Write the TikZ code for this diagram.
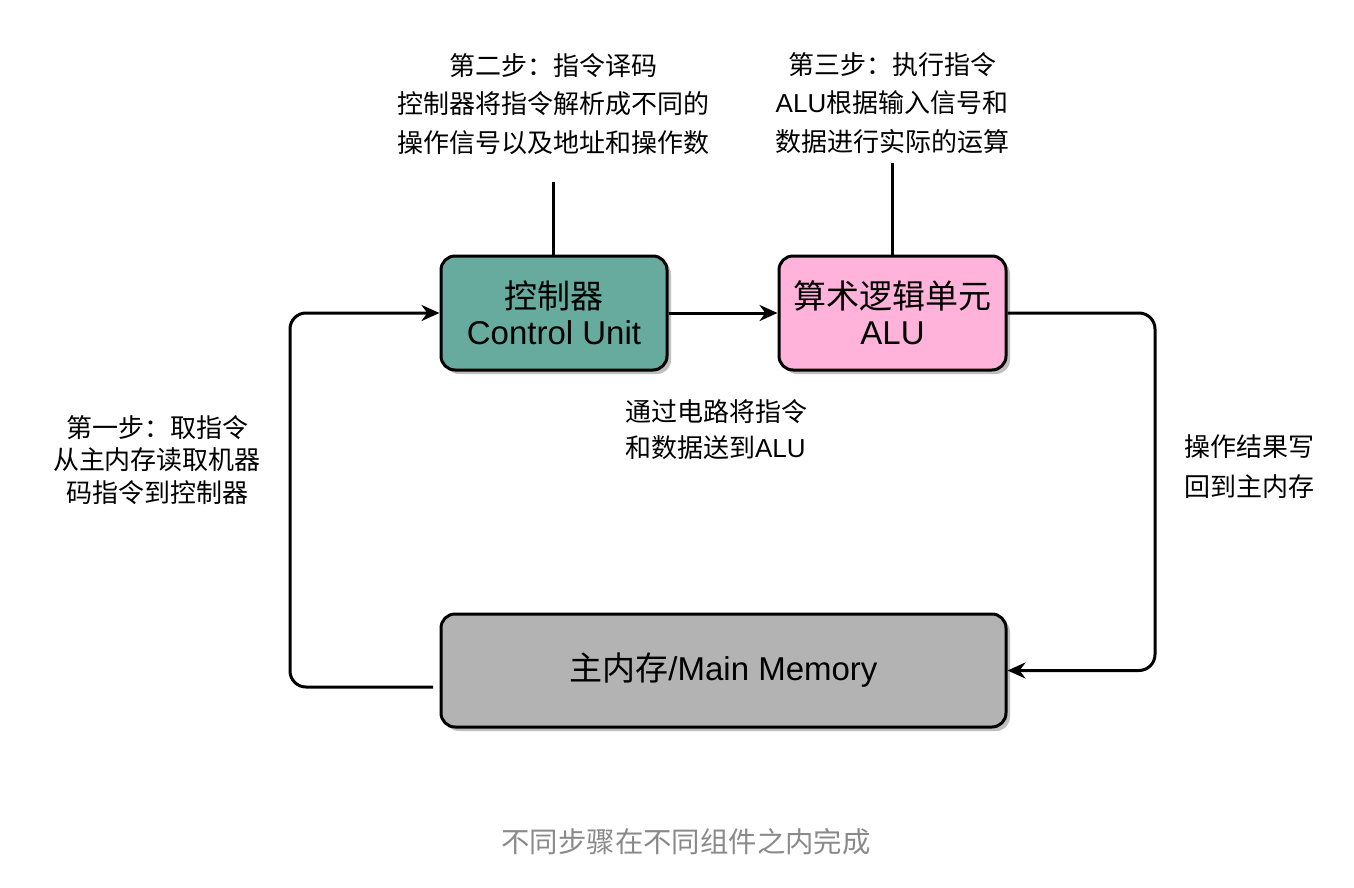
\documentclass[tikz,border=0pt]{standalone}
\usepackage{fontspec}
\setmainfont{Liberation Sans}
\newfontfamily\cjk{Noto Sans CJK SC}
\usetikzlibrary{arrows.meta,shadows}
\definecolor{cugreen}{HTML}{67AB9F}
\definecolor{alupink}{HTML}{FFB3DA}
\definecolor{memgray}{HTML}{B3B3B3}
\definecolor{capgray}{HTML}{8A8A8A}
\tikzset{
  unitbox/.style={draw=black, line width=1.5pt, rounded corners=7pt, align=center,
    inner sep=0pt, font=\fontsize{16.5}{18}\selectfont,
    drop shadow={shadow xshift=2pt, shadow yshift=-2pt, fill=black!25, opacity=1}},
  conn/.style={line width=1.5pt, line join=round},
  arr/.style={conn, -{Stealth[length=9pt,width=8pt]}},
  note/.style={inner sep=0pt, font=\cjk\fontsize{13}{19.25}\selectfont}
}
\begin{document}
\begin{tikzpicture}[x=0.5pt,y=-0.5pt]
\useasboundingbox (0,0) rectangle (1354,888);
% boxes
\node[unitbox, fill=cugreen, minimum width=113pt, minimum height=57pt] (cu) at (554,313)
  {{\cjk 控制器}\\Control Unit};
\node[unitbox, fill=alupink, minimum width=113.5pt, minimum height=57pt] (alu) at (892.5,313)
  {{\cjk 算术逻辑单元}\\ALU};
\node[unitbox, fill=memgray, minimum width=282.5pt, minimum height=56.5pt] (mm) at (723.5,670.5)
  {{\cjk 主内存}/Main Memory};
% texts
\node[note, align=center] (s2) at (553,104)
  {第二步：指令译码\\控制器将指令解析成不同的\\操作信号以及地址和操作数};
\node[note, align=center] (s3) at (892,103)
  {第三步：执行指令\\\fontspec{Liberation Sans}ALU{\cjk 根据输入信号和}\\数据进行实际的运算};
\node[note, align=center, font=\cjk\fontsize{13}{16.25}\selectfont] (s1) at (157,460)
  {第一步：取指令\\从主内存读取机器\\码指令到控制器};
\node[note, align=left, font=\cjk\fontsize{13}{18}\selectfont] (mid) at (716,430)
  {通过电路将指令\\和数据送到{\fontspec{Liberation Sans}ALU}};
\node[note, align=left, font=\cjk\fontsize{13}{20}\selectfont] (wb) at (1249,467)
  {操作结果写\\回到主内存};
\node[note, text=capgray, font=\cjk\fontsize{14.2}{16}\selectfont] (cap) at (686,842)
  {不同步骤在不同组件之内完成};
% connector points
\coordinate (t2) at (553,182);
\coordinate (t3) at (892,163);
\coordinate (ls) at (433,687);
\coordinate (lb) at (290,687);
\coordinate (lt) at (290,313);
\coordinate (rt) at (1155,313);
\coordinate (rb) at (1155,670.5);
% connectors
\draw[conn] (t2) -- (cu.north -| t2);
\draw[conn] (t3) -- (alu.north -| t3);
\draw[arr] (cu.east) -- (alu.west);
\draw[arr, rounded corners=8pt] (ls) -- (lb) -- (lt) -- (cu.west);
\draw[arr, rounded corners=8pt] (alu.east) -- (rt) -- (rb) -- (mm.east);
\end{tikzpicture}
\end{document}
